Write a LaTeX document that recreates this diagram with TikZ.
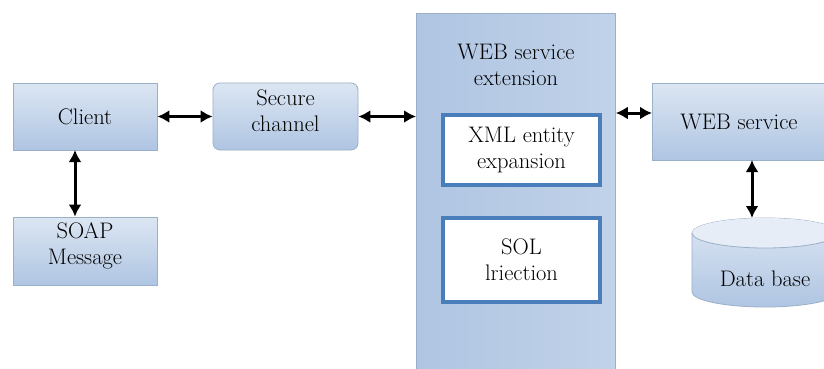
\documentclass[tikz,border=0pt]{standalone}
\usetikzlibrary{arrows.meta}
\definecolor{boxtop}{HTML}{DCE6F3}
\definecolor{boxbot}{HTML}{AFC5E2}
\definecolor{boxline}{HTML}{9AAFC8}
\definecolor{innerblue}{HTML}{4A7EBB}
\tikzset{
  txt/.style={font=\fontsize{22.5}{26}\selectfont},
  blk/.style={rectangle, draw=boxline, line width=0.8pt, top color=boxtop, bottom color=boxbot,
    align=center, inner sep=0pt, txt},
  inbox/.style={rectangle, draw=innerblue, line width=3.5pt, fill=white,
    align=center, inner sep=0pt, txt},
  lbl/.style={align=center, inner sep=0pt, txt},
  arr/.style={line width=3pt, {Latex[length=12pt,width=13pt]}-{Latex[length=12pt,width=13pt]}}
}
\begin{document}
\begin{tikzpicture}[x=1pt,y=-1pt]
\useasboundingbox (0,0) rectangle (824,369);
\clip (0,0) rectangle (824,369);
\fill[white] (0,0) rectangle (824,369);

% left blocks
\node[blk, minimum width=144, minimum height=67] (client) at (85,116.5) {Client};
\node[blk, minimum width=145, minimum height=67, rounded corners=7pt] (secure) at (285.5,116.5) {};
\node[lbl] (securelbl) at (285.5,111) {Secure\\channel};
\node[blk, minimum width=144, minimum height=68] (soap) at (85,251) {};
\node[lbl] (soaplbl) at (85,246) {SOAP\\Message};

% extension column
\node[rectangle, draw=boxline, line width=0.8pt, left color=boxbot, middle color=boxtop!85!white,
      right color=boxbot!60!boxtop, minimum width=199, minimum height=370, anchor=north west,
      inner sep=0pt] (ext) at (416,13) {};
\node[lbl] (extlbl) at (516,65) {WEB service\\extension};
\node[inbox, minimum width=157, minimum height=70] (xml) at (521.5,150) {XML entity\\expansion};
\node[inbox, minimum width=157, minimum height=84] (sol) at (521.5,260) {SOL\\lriection};

% right blocks
\node[blk, minimum width=190, minimum height=77, anchor=north west] (ws) at (652,83) {};
\node[lbl] (wslbl) at (739,122) {WEB service};

% database cylinder
\coordinate (dbtl) at (692,233);
\coordinate (dbbl) at (692,292);
\shade[top color=boxtop, bottom color=boxbot, draw=boxline, line width=0.8pt]
  (dbbl) arc[start angle=180, end angle=360, x radius=73pt, y radius=15pt]
  -- ++(0pt,59pt) arc[start angle=0, end angle=180, x radius=73pt, y radius=15pt] -- cycle;
\fill[boxtop!70!white] (dbtl) arc[start angle=180, end angle=360, x radius=73pt, y radius=15pt]
  arc[start angle=0, end angle=180, x radius=73pt, y radius=15pt] -- cycle;
\draw[boxline, line width=0.8pt] (dbtl) arc[start angle=180, end angle=360, x radius=73pt, y radius=15pt];
\node[lbl, minimum width=146, minimum height=89] (db) at (765,262.5) {};
\node[lbl] (dblbl) at (765,279) {Data base};

% connectors
\draw[arr] (client.east) -- (secure.west);
\draw[arr] (secure.east) -- (ext.west |- secure.east);
\coordinate (cs) at (75,150);
\draw[arr] (cs) -- (cs |- soap.north);
\coordinate (wa) at (652,113);
\draw[arr] (ext.east |- wa) -- (wa);
\coordinate (wb) at (752,160);
\draw[arr] (wb) -- (752,218);
\end{tikzpicture}
\end{document}
